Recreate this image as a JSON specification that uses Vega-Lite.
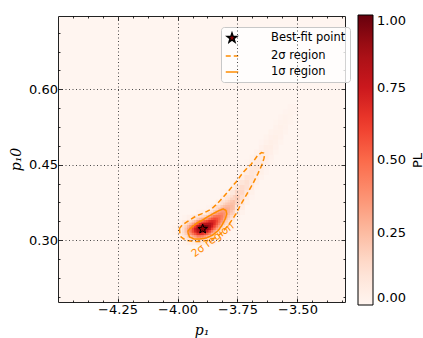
{
  "$schema": "https://vega.github.io/schema/vega-lite/v6.json",
  "width": 287,
  "height": 286,
  "autosize": "none",
  "padding": {"left": 58, "top": 16, "right": 78, "bottom": 36},
  "background": "white",
  "config": {
    "view": {"fill": "#fff5f0", "stroke": "#222222", "strokeWidth": 1},
    "font": "DejaVu Sans"
  },
  "datasets": {
    "pl": [
      {"x": -4.01, "y": 0.315, "PL": 0.014}, {"x": -4.01, "y": 0.325, "PL": 0.014},
      {"x": -3.99, "y": 0.305, "PL": 0.022}, {"x": -3.99, "y": 0.315, "PL": 0.05}, {"x": -3.99, "y": 0.325, "PL": 0.05}, {"x": -3.99, "y": 0.335, "PL": 0.022},
      {"x": -3.97, "y": 0.295, "PL": 0.014}, {"x": -3.97, "y": 0.305, "PL": 0.071}, {"x": -3.97, "y": 0.315, "PL": 0.162}, {"x": -3.97, "y": 0.325, "PL": 0.162}, {"x": -3.97, "y": 0.335, "PL": 0.071}, {"x": -3.97, "y": 0.345, "PL": 0.014},
      {"x": -3.95, "y": 0.295, "PL": 0.03}, {"x": -3.95, "y": 0.305, "PL": 0.158}, {"x": -3.95, "y": 0.315, "PL": 0.36}, {"x": -3.95, "y": 0.325, "PL": 0.36}, {"x": -3.95, "y": 0.335, "PL": 0.158}, {"x": -3.95, "y": 0.345, "PL": 0.03},
      {"x": -3.93, "y": 0.295, "PL": 0.042}, {"x": -3.93, "y": 0.305, "PL": 0.236}, {"x": -3.93, "y": 0.315, "PL": 0.585}, {"x": -3.93, "y": 0.325, "PL": 0.636}, {"x": -3.93, "y": 0.335, "PL": 0.3}, {"x": -3.93, "y": 0.345, "PL": 0.063},
      {"x": -3.91, "y": 0.295, "PL": 0.073}, {"x": -3.91, "y": 0.305, "PL": 0.337}, {"x": -3.91, "y": 0.315, "PL": 0.776}, {"x": -3.91, "y": 0.325, "PL": 0.89}, {"x": -3.91, "y": 0.335, "PL": 0.51}, {"x": -3.91, "y": 0.345, "PL": 0.146}, {"x": -3.91, "y": 0.355, "PL": 0.021},
      {"x": -3.89, "y": 0.295, "PL": 0.054}, {"x": -3.89, "y": 0.305, "PL": 0.286}, {"x": -3.89, "y": 0.315, "PL": 0.755}, {"x": -3.89, "y": 0.325, "PL": 0.999}, {"x": -3.89, "y": 0.335, "PL": 0.657}, {"x": -3.89, "y": 0.345, "PL": 0.216}, {"x": -3.89, "y": 0.355, "PL": 0.035},
      {"x": -3.87, "y": 0.295, "PL": 0.034}, {"x": -3.87, "y": 0.305, "PL": 0.191}, {"x": -3.87, "y": 0.315, "PL": 0.568}, {"x": -3.87, "y": 0.325, "PL": 0.888}, {"x": -3.87, "y": 0.335, "PL": 0.733}, {"x": -3.87, "y": 0.345, "PL": 0.319}, {"x": -3.87, "y": 0.355, "PL": 0.073}, {"x": -3.87, "y": 0.365, "PL": 0.009},
      {"x": -3.85, "y": 0.295, "PL": 0.015}, {"x": -3.85, "y": 0.305, "PL": 0.086}, {"x": -3.85, "y": 0.315, "PL": 0.3}, {"x": -3.85, "y": 0.325, "PL": 0.606}, {"x": -3.85, "y": 0.335, "PL": 0.712}, {"x": -3.85, "y": 0.345, "PL": 0.488}, {"x": -3.85, "y": 0.355, "PL": 0.195}, {"x": -3.85, "y": 0.365, "PL": 0.045},
      {"x": -3.83, "y": 0.305, "PL": 0.036}, {"x": -3.83, "y": 0.315, "PL": 0.137}, {"x": -3.83, "y": 0.325, "PL": 0.334}, {"x": -3.83, "y": 0.335, "PL": 0.52}, {"x": -3.83, "y": 0.345, "PL": 0.52}, {"x": -3.83, "y": 0.355, "PL": 0.334}, {"x": -3.83, "y": 0.365, "PL": 0.137}, {"x": -3.83, "y": 0.375, "PL": 0.036},
      {"x": -3.81, "y": 0.305, "PL": 0.012}, {"x": -3.81, "y": 0.315, "PL": 0.05}, {"x": -3.81, "y": 0.325, "PL": 0.146}, {"x": -3.81, "y": 0.335, "PL": 0.293}, {"x": -3.81, "y": 0.345, "PL": 0.408}, {"x": -3.81, "y": 0.355, "PL": 0.393}, {"x": -3.81, "y": 0.365, "PL": 0.262}, {"x": -3.81, "y": 0.375, "PL": 0.121}, {"x": -3.81, "y": 0.385, "PL": 0.039}, {"x": -3.81, "y": 0.395, "PL": 0.009},
      {"x": -3.79, "y": 0.315, "PL": 0.013}, {"x": -3.79, "y": 0.325, "PL": 0.047}, {"x": -3.79, "y": 0.335, "PL": 0.124}, {"x": -3.79, "y": 0.345, "PL": 0.232}, {"x": -3.79, "y": 0.355, "PL": 0.305}, {"x": -3.79, "y": 0.365, "PL": 0.285}, {"x": -3.79, "y": 0.375, "PL": 0.188}, {"x": -3.79, "y": 0.385, "PL": 0.088}, {"x": -3.79, "y": 0.395, "PL": 0.029},
      {"x": -3.77, "y": 0.325, "PL": 0.012}, {"x": -3.77, "y": 0.335, "PL": 0.04}, {"x": -3.77, "y": 0.345, "PL": 0.099}, {"x": -3.77, "y": 0.355, "PL": 0.177}, {"x": -3.77, "y": 0.365, "PL": 0.234}, {"x": -3.77, "y": 0.375, "PL": 0.227}, {"x": -3.77, "y": 0.385, "PL": 0.162}, {"x": -3.77, "y": 0.395, "PL": 0.085}, {"x": -3.77, "y": 0.405, "PL": 0.032}, {"x": -3.77, "y": 0.415, "PL": 0.009},
      {"x": -3.75, "y": 0.335, "PL": 0.008}, {"x": -3.75, "y": 0.345, "PL": 0.026}, {"x": -3.75, "y": 0.355, "PL": 0.066}, {"x": -3.75, "y": 0.365, "PL": 0.125}, {"x": -3.75, "y": 0.375, "PL": 0.177}, {"x": -3.75, "y": 0.385, "PL": 0.188}, {"x": -3.75, "y": 0.395, "PL": 0.148}, {"x": -3.75, "y": 0.405, "PL": 0.088}, {"x": -3.75, "y": 0.415, "PL": 0.039}, {"x": -3.75, "y": 0.425, "PL": 0.013},
      {"x": -3.73, "y": 0.355, "PL": 0.015}, {"x": -3.73, "y": 0.365, "PL": 0.041}, {"x": -3.73, "y": 0.375, "PL": 0.084}, {"x": -3.73, "y": 0.385, "PL": 0.131}, {"x": -3.73, "y": 0.395, "PL": 0.155}, {"x": -3.73, "y": 0.405, "PL": 0.139}, {"x": -3.73, "y": 0.415, "PL": 0.094}, {"x": -3.73, "y": 0.425, "PL": 0.048}, {"x": -3.73, "y": 0.435, "PL": 0.019},
      {"x": -3.71, "y": 0.375, "PL": 0.019}, {"x": -3.71, "y": 0.385, "PL": 0.046}, {"x": -3.71, "y": 0.395, "PL": 0.084}, {"x": -3.71, "y": 0.405, "PL": 0.117}, {"x": -3.71, "y": 0.415, "PL": 0.123}, {"x": -3.71, "y": 0.425, "PL": 0.099}, {"x": -3.71, "y": 0.435, "PL": 0.06}, {"x": -3.71, "y": 0.445, "PL": 0.028}, {"x": -3.71, "y": 0.455, "PL": 0.01},
      {"x": -3.69, "y": 0.385, "PL": 0.009}, {"x": -3.69, "y": 0.395, "PL": 0.024}, {"x": -3.69, "y": 0.405, "PL": 0.051}, {"x": -3.69, "y": 0.415, "PL": 0.082}, {"x": -3.69, "y": 0.425, "PL": 0.099}, {"x": -3.69, "y": 0.435, "PL": 0.092}, {"x": -3.69, "y": 0.445, "PL": 0.064}, {"x": -3.69, "y": 0.455, "PL": 0.034}, {"x": -3.69, "y": 0.465, "PL": 0.014},
      {"x": -3.67, "y": 0.405, "PL": 0.012}, {"x": -3.67, "y": 0.415, "PL": 0.029}, {"x": -3.67, "y": 0.425, "PL": 0.054}, {"x": -3.67, "y": 0.435, "PL": 0.075}, {"x": -3.67, "y": 0.445, "PL": 0.079}, {"x": -3.67, "y": 0.455, "PL": 0.063}, {"x": -3.67, "y": 0.465, "PL": 0.038}, {"x": -3.67, "y": 0.475, "PL": 0.018},
      {"x": -3.65, "y": 0.425, "PL": 0.015}, {"x": -3.65, "y": 0.435, "PL": 0.032}, {"x": -3.65, "y": 0.445, "PL": 0.052}, {"x": -3.65, "y": 0.455, "PL": 0.063}, {"x": -3.65, "y": 0.465, "PL": 0.058}, {"x": -3.65, "y": 0.475, "PL": 0.04}, {"x": -3.65, "y": 0.485, "PL": 0.021}, {"x": -3.65, "y": 0.495, "PL": 0.009},
      {"x": -3.63, "y": 0.435, "PL": 0.009}, {"x": -3.63, "y": 0.445, "PL": 0.02}, {"x": -3.63, "y": 0.455, "PL": 0.035}, {"x": -3.63, "y": 0.465, "PL": 0.047}, {"x": -3.63, "y": 0.475, "PL": 0.049}, {"x": -3.63, "y": 0.485, "PL": 0.04}, {"x": -3.63, "y": 0.495, "PL": 0.026}, {"x": -3.63, "y": 0.505, "PL": 0.013},
      {"x": -3.61, "y": 0.455, "PL": 0.011}, {"x": -3.61, "y": 0.465, "PL": 0.022}, {"x": -3.61, "y": 0.475, "PL": 0.033}, {"x": -3.61, "y": 0.485, "PL": 0.04}, {"x": -3.61, "y": 0.495, "PL": 0.037}, {"x": -3.61, "y": 0.505, "PL": 0.027}, {"x": -3.61, "y": 0.515, "PL": 0.015},
      {"x": -3.59, "y": 0.475, "PL": 0.013}, {"x": -3.59, "y": 0.485, "PL": 0.022}, {"x": -3.59, "y": 0.495, "PL": 0.03}, {"x": -3.59, "y": 0.505, "PL": 0.032}, {"x": -3.59, "y": 0.515, "PL": 0.026}, {"x": -3.59, "y": 0.525, "PL": 0.017}, {"x": -3.59, "y": 0.535, "PL": 0.008},
      {"x": -3.57, "y": 0.495, "PL": 0.014}, {"x": -3.57, "y": 0.505, "PL": 0.021}, {"x": -3.57, "y": 0.515, "PL": 0.025}, {"x": -3.57, "y": 0.525, "PL": 0.023}, {"x": -3.57, "y": 0.535, "PL": 0.017}, {"x": -3.57, "y": 0.545, "PL": 0.009},
      {"x": -3.55, "y": 0.515, "PL": 0.013}, {"x": -3.55, "y": 0.525, "PL": 0.018}, {"x": -3.55, "y": 0.535, "PL": 0.019}, {"x": -3.55, "y": 0.545, "PL": 0.015}, {"x": -3.55, "y": 0.555, "PL": 0.01},
      {"x": -3.53, "y": 0.535, "PL": 0.012}, {"x": -3.53, "y": 0.545, "PL": 0.014}, {"x": -3.53, "y": 0.555, "PL": 0.013}, {"x": -3.53, "y": 0.565, "PL": 0.009},
      {"x": -3.51, "y": 0.555, "PL": 0.01}, {"x": -3.51, "y": 0.565, "PL": 0.01}
    ],
    "plfine": [
      {"x": -3.975, "y": 0.3125, "PL": 0.103}, {"x": -3.975, "y": 0.3175, "PL": 0.127}, {"x": -3.975, "y": 0.3225, "PL": 0.127}, {"x": -3.975, "y": 0.3275, "PL": 0.103},
      {"x": -3.965, "y": 0.3075, "PL": 0.115}, {"x": -3.965, "y": 0.3125, "PL": 0.174}, {"x": -3.965, "y": 0.3175, "PL": 0.215}, {"x": -3.965, "y": 0.3225, "PL": 0.215}, {"x": -3.965, "y": 0.3275, "PL": 0.174}, {"x": -3.965, "y": 0.3325, "PL": 0.115},
      {"x": -3.955, "y": 0.3025, "PL": 0.093}, {"x": -3.955, "y": 0.3075, "PL": 0.173}, {"x": -3.955, "y": 0.3125, "PL": 0.262}, {"x": -3.955, "y": 0.3175, "PL": 0.322}, {"x": -3.955, "y": 0.3225, "PL": 0.322}, {"x": -3.955, "y": 0.3275, "PL": 0.262}, {"x": -3.955, "y": 0.3325, "PL": 0.173}, {"x": -3.955, "y": 0.3375, "PL": 0.093},
      {"x": -3.945, "y": 0.3025, "PL": 0.13}, {"x": -3.945, "y": 0.3075, "PL": 0.241}, {"x": -3.945, "y": 0.3125, "PL": 0.365}, {"x": -3.945, "y": 0.3175, "PL": 0.449}, {"x": -3.945, "y": 0.3225, "PL": 0.449}, {"x": -3.945, "y": 0.3275, "PL": 0.365}, {"x": -3.945, "y": 0.3325, "PL": 0.241}, {"x": -3.945, "y": 0.3375, "PL": 0.13},
      {"x": -3.935, "y": 0.3025, "PL": 0.157}, {"x": -3.935, "y": 0.3075, "PL": 0.299}, {"x": -3.935, "y": 0.3125, "PL": 0.461}, {"x": -3.935, "y": 0.3175, "PL": 0.578}, {"x": -3.935, "y": 0.3225, "PL": 0.59}, {"x": -3.935, "y": 0.3275, "PL": 0.49}, {"x": -3.935, "y": 0.3325, "PL": 0.331}, {"x": -3.935, "y": 0.3375, "PL": 0.182}, {"x": -3.935, "y": 0.3425, "PL": 0.081},
      {"x": -3.925, "y": 0.3025, "PL": 0.18}, {"x": -3.925, "y": 0.3075, "PL": 0.349}, {"x": -3.925, "y": 0.3125, "PL": 0.549}, {"x": -3.925, "y": 0.3175, "PL": 0.704}, {"x": -3.925, "y": 0.3225, "PL": 0.733}, {"x": -3.925, "y": 0.3275, "PL": 0.621}, {"x": -3.925, "y": 0.3325, "PL": 0.428}, {"x": -3.925, "y": 0.3375, "PL": 0.24}, {"x": -3.925, "y": 0.3425, "PL": 0.11},
      {"x": -3.915, "y": 0.2975, "PL": 0.116}, {"x": -3.915, "y": 0.3025, "PL": 0.246}, {"x": -3.915, "y": 0.3075, "PL": 0.435}, {"x": -3.915, "y": 0.3125, "PL": 0.649}, {"x": -3.915, "y": 0.3175, "PL": 0.813}, {"x": -3.915, "y": 0.3225, "PL": 0.857}, {"x": -3.915, "y": 0.3275, "PL": 0.759}, {"x": -3.915, "y": 0.3325, "PL": 0.565}, {"x": -3.915, "y": 0.3375, "PL": 0.354}, {"x": -3.915, "y": 0.3425, "PL": 0.186}, {"x": -3.915, "y": 0.3475, "PL": 0.082},
      {"x": -3.905, "y": 0.2975, "PL": 0.108}, {"x": -3.905, "y": 0.3025, "PL": 0.237}, {"x": -3.905, "y": 0.3075, "PL": 0.435}, {"x": -3.905, "y": 0.3125, "PL": 0.671}, {"x": -3.905, "y": 0.3175, "PL": 0.871}, {"x": -3.905, "y": 0.3225, "PL": 0.95}, {"x": -3.905, "y": 0.3275, "PL": 0.871}, {"x": -3.905, "y": 0.3325, "PL": 0.671}, {"x": -3.905, "y": 0.3375, "PL": 0.435}, {"x": -3.905, "y": 0.3425, "PL": 0.237}, {"x": -3.905, "y": 0.3475, "PL": 0.108},
      {"x": -3.895, "y": 0.2975, "PL": 0.096}, {"x": -3.895, "y": 0.3025, "PL": 0.216}, {"x": -3.895, "y": 0.3075, "PL": 0.411}, {"x": -3.895, "y": 0.3125, "PL": 0.657}, {"x": -3.895, "y": 0.3175, "PL": 0.882}, {"x": -3.895, "y": 0.3225, "PL": 0.997}, {"x": -3.895, "y": 0.3275, "PL": 0.946}, {"x": -3.895, "y": 0.3325, "PL": 0.755}, {"x": -3.895, "y": 0.3375, "PL": 0.506}, {"x": -3.895, "y": 0.3425, "PL": 0.286}, {"x": -3.895, "y": 0.3475, "PL": 0.135},
      {"x": -3.885, "y": 0.3025, "PL": 0.174}, {"x": -3.885, "y": 0.3075, "PL": 0.347}, {"x": -3.885, "y": 0.3125, "PL": 0.58}, {"x": -3.885, "y": 0.3175, "PL": 0.815}, {"x": -3.885, "y": 0.3225, "PL": 0.962}, {"x": -3.885, "y": 0.3275, "PL": 0.955}, {"x": -3.885, "y": 0.3325, "PL": 0.797}, {"x": -3.885, "y": 0.3375, "PL": 0.56}, {"x": -3.885, "y": 0.3425, "PL": 0.33}, {"x": -3.885, "y": 0.3475, "PL": 0.164},
      {"x": -3.875, "y": 0.3025, "PL": 0.15}, {"x": -3.875, "y": 0.3075, "PL": 0.3}, {"x": -3.875, "y": 0.3125, "PL": 0.509}, {"x": -3.875, "y": 0.3175, "PL": 0.732}, {"x": -3.875, "y": 0.3225, "PL": 0.893}, {"x": -3.875, "y": 0.3275, "PL": 0.923}, {"x": -3.875, "y": 0.3325, "PL": 0.809}, {"x": -3.875, "y": 0.3375, "PL": 0.601}, {"x": -3.875, "y": 0.3425, "PL": 0.378}, {"x": -3.875, "y": 0.3475, "PL": 0.202}, {"x": -3.875, "y": 0.3525, "PL": 0.091},
      {"x": -3.865, "y": 0.3025, "PL": 0.116}, {"x": -3.865, "y": 0.3075, "PL": 0.233}, {"x": -3.865, "y": 0.3125, "PL": 0.403}, {"x": -3.865, "y": 0.3175, "PL": 0.601}, {"x": -3.865, "y": 0.3225, "PL": 0.773}, {"x": -3.865, "y": 0.3275, "PL": 0.857}, {"x": -3.865, "y": 0.3325, "PL": 0.82}, {"x": -3.865, "y": 0.3375, "PL": 0.677}, {"x": -3.865, "y": 0.3425, "PL": 0.481}, {"x": -3.865, "y": 0.3475, "PL": 0.296}, {"x": -3.865, "y": 0.3525, "PL": 0.157},
      {"x": -3.855, "y": 0.3075, "PL": 0.151}, {"x": -3.855, "y": 0.3125, "PL": 0.278}, {"x": -3.855, "y": 0.3175, "PL": 0.443}, {"x": -3.855, "y": 0.3225, "PL": 0.612}, {"x": -3.855, "y": 0.3275, "PL": 0.736}, {"x": -3.855, "y": 0.3325, "PL": 0.768}, {"x": -3.855, "y": 0.3375, "PL": 0.696}, {"x": -3.855, "y": 0.3425, "PL": 0.547}, {"x": -3.855, "y": 0.3475, "PL": 0.374}, {"x": -3.855, "y": 0.3525, "PL": 0.222}, {"x": -3.855, "y": 0.3575, "PL": 0.114},
      {"x": -3.845, "y": 0.3075, "PL": 0.101}, {"x": -3.845, "y": 0.3125, "PL": 0.191}, {"x": -3.845, "y": 0.3175, "PL": 0.317}, {"x": -3.845, "y": 0.3225, "PL": 0.462}, {"x": -3.845, "y": 0.3275, "PL": 0.593}, {"x": -3.845, "y": 0.3325, "PL": 0.671}, {"x": -3.845, "y": 0.3375, "PL": 0.668}, {"x": -3.845, "y": 0.3425, "PL": 0.585}, {"x": -3.845, "y": 0.3475, "PL": 0.451}, {"x": -3.845, "y": 0.3525, "PL": 0.306}, {"x": -3.845, "y": 0.3575, "PL": 0.183}, {"x": -3.845, "y": 0.3625, "PL": 0.096},
      {"x": -3.835, "y": 0.3125, "PL": 0.126}, {"x": -3.835, "y": 0.3175, "PL": 0.217}, {"x": -3.835, "y": 0.3225, "PL": 0.333}, {"x": -3.835, "y": 0.3275, "PL": 0.454}, {"x": -3.835, "y": 0.3325, "PL": 0.549}, {"x": -3.835, "y": 0.3375, "PL": 0.59}, {"x": -3.835, "y": 0.3425, "PL": 0.562}, {"x": -3.835, "y": 0.3475, "PL": 0.476}, {"x": -3.835, "y": 0.3525, "PL": 0.358}, {"x": -3.835, "y": 0.3575, "PL": 0.239}, {"x": -3.835, "y": 0.3625, "PL": 0.142},
      {"x": -3.825, "y": 0.3125, "PL": 0.08}, {"x": -3.825, "y": 0.3175, "PL": 0.141}, {"x": -3.825, "y": 0.3225, "PL": 0.226}, {"x": -3.825, "y": 0.3275, "PL": 0.326}, {"x": -3.825, "y": 0.3325, "PL": 0.421}, {"x": -3.825, "y": 0.3375, "PL": 0.488}, {"x": -3.825, "y": 0.3425, "PL": 0.509}, {"x": -3.825, "y": 0.3475, "PL": 0.478}, {"x": -3.825, "y": 0.3525, "PL": 0.403}, {"x": -3.825, "y": 0.3575, "PL": 0.305}, {"x": -3.825, "y": 0.3625, "PL": 0.208}, {"x": -3.825, "y": 0.3675, "PL": 0.127},
      {"x": -3.815, "y": 0.3175, "PL": 0.082}, {"x": -3.815, "y": 0.3225, "PL": 0.139}, {"x": -3.815, "y": 0.3275, "PL": 0.213}, {"x": -3.815, "y": 0.3325, "PL": 0.295}, {"x": -3.815, "y": 0.3375, "PL": 0.372}, {"x": -3.815, "y": 0.3425, "PL": 0.424}, {"x": -3.815, "y": 0.3475, "PL": 0.44}, {"x": -3.815, "y": 0.3525, "PL": 0.413}, {"x": -3.815, "y": 0.3575, "PL": 0.352}, {"x": -3.815, "y": 0.3625, "PL": 0.272}, {"x": -3.815, "y": 0.3675, "PL": 0.191}, {"x": -3.815, "y": 0.3725, "PL": 0.121},
      {"x": -3.805, "y": 0.3225, "PL": 0.085}, {"x": -3.805, "y": 0.3275, "PL": 0.138}, {"x": -3.805, "y": 0.3325, "PL": 0.203}, {"x": -3.805, "y": 0.3375, "PL": 0.272}, {"x": -3.805, "y": 0.3425, "PL": 0.333}, {"x": -3.805, "y": 0.3475, "PL": 0.372}, {"x": -3.805, "y": 0.3525, "PL": 0.378}, {"x": -3.805, "y": 0.3575, "PL": 0.352}, {"x": -3.805, "y": 0.3625, "PL": 0.298}, {"x": -3.805, "y": 0.3675, "PL": 0.231}, {"x": -3.805, "y": 0.3725, "PL": 0.163}, {"x": -3.805, "y": 0.3775, "PL": 0.105},
      {"x": -3.795, "y": 0.3275, "PL": 0.08}, {"x": -3.795, "y": 0.3325, "PL": 0.125}, {"x": -3.795, "y": 0.3375, "PL": 0.179}, {"x": -3.795, "y": 0.3425, "PL": 0.236}, {"x": -3.795, "y": 0.3475, "PL": 0.284}, {"x": -3.795, "y": 0.3525, "PL": 0.314}, {"x": -3.795, "y": 0.3575, "PL": 0.318}, {"x": -3.795, "y": 0.3625, "PL": 0.296}, {"x": -3.795, "y": 0.3675, "PL": 0.252}, {"x": -3.795, "y": 0.3725, "PL": 0.198}, {"x": -3.795, "y": 0.3775, "PL": 0.142}, {"x": -3.795, "y": 0.3825, "PL": 0.093},
      {"x": -3.785, "y": 0.3375, "PL": 0.116}, {"x": -3.785, "y": 0.3425, "PL": 0.163}, {"x": -3.785, "y": 0.3475, "PL": 0.211}, {"x": -3.785, "y": 0.3525, "PL": 0.252}, {"x": -3.785, "y": 0.3575, "PL": 0.276}, {"x": -3.785, "y": 0.3625, "PL": 0.278}, {"x": -3.785, "y": 0.3675, "PL": 0.258}, {"x": -3.785, "y": 0.3725, "PL": 0.22}, {"x": -3.785, "y": 0.3775, "PL": 0.173}, {"x": -3.785, "y": 0.3825, "PL": 0.125}, {"x": -3.785, "y": 0.3875, "PL": 0.083},
      {"x": -3.775, "y": 0.3425, "PL": 0.105}, {"x": -3.775, "y": 0.3475, "PL": 0.146}, {"x": -3.775, "y": 0.3525, "PL": 0.188}, {"x": -3.775, "y": 0.3575, "PL": 0.223}, {"x": -3.775, "y": 0.3625, "PL": 0.245}, {"x": -3.775, "y": 0.3675, "PL": 0.249}, {"x": -3.775, "y": 0.3725, "PL": 0.234}, {"x": -3.775, "y": 0.3775, "PL": 0.203}, {"x": -3.775, "y": 0.3825, "PL": 0.163}, {"x": -3.775, "y": 0.3875, "PL": 0.121}, {"x": -3.775, "y": 0.3925, "PL": 0.083}
    ],
    "contours": [
      {"series": "2σ region", "i": 0, "x": -3.992, "y": 0.323},
      {"series": "2σ region", "i": 1, "x": -3.99, "y": 0.313},
      {"series": "2σ region", "i": 2, "x": -3.985, "y": 0.306},
      {"series": "2σ region", "i": 3, "x": -3.97, "y": 0.301},
      {"series": "2σ region", "i": 4, "x": -3.957, "y": 0.299},
      {"series": "2σ region", "i": 5, "x": -3.93, "y": 0.297},
      {"series": "2σ region", "i": 6, "x": -3.908, "y": 0.297},
      {"series": "2σ region", "i": 7, "x": -3.875, "y": 0.299},
      {"series": "2σ region", "i": 8, "x": -3.839, "y": 0.305},
      {"series": "2σ region", "i": 9, "x": -3.81, "y": 0.317},
      {"series": "2σ region", "i": 10, "x": -3.783, "y": 0.333},
      {"series": "2σ region", "i": 11, "x": -3.755, "y": 0.353},
      {"series": "2σ region", "i": 12, "x": -3.737, "y": 0.37},
      {"series": "2σ region", "i": 13, "x": -3.714, "y": 0.389},
      {"series": "2σ region", "i": 14, "x": -3.686, "y": 0.412},
      {"series": "2σ region", "i": 15, "x": -3.665, "y": 0.432},
      {"series": "2σ region", "i": 16, "x": -3.648, "y": 0.45},
      {"series": "2σ region", "i": 17, "x": -3.64, "y": 0.462},
      {"series": "2σ region", "i": 18, "x": -3.637, "y": 0.469},
      {"series": "2σ region", "i": 19, "x": -3.641, "y": 0.473},
      {"series": "2σ region", "i": 20, "x": -3.65, "y": 0.474},
      {"series": "2σ region", "i": 21, "x": -3.665, "y": 0.469},
      {"series": "2σ region", "i": 22, "x": -3.68, "y": 0.459},
      {"series": "2σ region", "i": 23, "x": -3.693, "y": 0.451},
      {"series": "2σ region", "i": 24, "x": -3.71, "y": 0.443},
      {"series": "2σ region", "i": 25, "x": -3.724, "y": 0.436},
      {"series": "2σ region", "i": 26, "x": -3.74, "y": 0.426},
      {"series": "2σ region", "i": 27, "x": -3.755, "y": 0.416},
      {"series": "2σ region", "i": 28, "x": -3.773, "y": 0.406},
      {"series": "2σ region", "i": 29, "x": -3.79, "y": 0.396},
      {"series": "2σ region", "i": 30, "x": -3.808, "y": 0.386},
      {"series": "2σ region", "i": 31, "x": -3.825, "y": 0.377},
      {"series": "2σ region", "i": 32, "x": -3.84, "y": 0.37},
      {"series": "2σ region", "i": 33, "x": -3.858, "y": 0.362},
      {"series": "2σ region", "i": 34, "x": -3.877, "y": 0.357},
      {"series": "2σ region", "i": 35, "x": -3.9, "y": 0.352},
      {"series": "2σ region", "i": 36, "x": -3.922, "y": 0.348},
      {"series": "2σ region", "i": 37, "x": -3.945, "y": 0.341},
      {"series": "2σ region", "i": 38, "x": -3.964, "y": 0.335},
      {"series": "2σ region", "i": 39, "x": -3.98, "y": 0.33},
      {"series": "2σ region", "i": 40, "x": -3.992, "y": 0.323},
      {"series": "1σ region", "i": 0, "x": -3.957, "y": 0.316},
      {"series": "1σ region", "i": 1, "x": -3.95, "y": 0.306},
      {"series": "1σ region", "i": 2, "x": -3.93, "y": 0.302},
      {"series": "1σ region", "i": 3, "x": -3.908, "y": 0.302},
      {"series": "1σ region", "i": 4, "x": -3.88, "y": 0.304},
      {"series": "1σ region", "i": 5, "x": -3.853, "y": 0.31},
      {"series": "1σ region", "i": 6, "x": -3.83, "y": 0.319},
      {"series": "1σ region", "i": 7, "x": -3.814, "y": 0.33},
      {"series": "1σ region", "i": 8, "x": -3.8, "y": 0.343},
      {"series": "1σ region", "i": 9, "x": -3.795, "y": 0.352},
      {"series": "1σ region", "i": 10, "x": -3.798, "y": 0.359},
      {"series": "1σ region", "i": 11, "x": -3.81, "y": 0.362},
      {"series": "1σ region", "i": 12, "x": -3.83, "y": 0.358},
      {"series": "1σ region", "i": 13, "x": -3.853, "y": 0.352},
      {"series": "1σ region", "i": 14, "x": -3.875, "y": 0.346},
      {"series": "1σ region", "i": 15, "x": -3.895, "y": 0.34},
      {"series": "1σ region", "i": 16, "x": -3.918, "y": 0.334},
      {"series": "1σ region", "i": 17, "x": -3.94, "y": 0.326},
      {"series": "1σ region", "i": 18, "x": -3.955, "y": 0.319},
      {"series": "1σ region", "i": 19, "x": -3.957, "y": 0.316}
    ],
    "best": [{"x": -3.895, "y": 0.322, "series": "Best-fit point"}],
    "labels": [{"x": -3.853, "y": 0.3, "label": "2σ region"}]
  },
  "layer": [
    {
      "data": {"name": "pl"},
      "mark": {"type": "square", "size": 28, "opacity": 1, "strokeWidth": 0},
      "encoding": {
        "x": {
          "field": "x", "type": "quantitative",
          "scale": {"domain": [-4.498, -3.302], "nice": false, "zero": false},
          "axis": {
            "orient": "bottom",
            "values": [-4.4375, -4.375, -4.3125, -4.25, -4.1875, -4.125, -4.0625, -4, -3.9375, -3.875, -3.8125, -3.75, -3.6875, -3.625, -3.5625, -3.5, -3.4375, -3.375, -3.3125],
            "labelExpr": "abs(datum.value*4 - round(datum.value*4)) < 0.001 ? format(datum.value, '.2f') : ''",
            "grid": true, "gridDash": [1, 2.5], "gridColor": "#333333", "gridWidth": 0.9,
            "gridOpacity": {"condition": {"test": "abs(datum.value*4 - round(datum.value*4)) < 0.001", "value": 1}, "value": 0},
            "tickSize": {"condition": {"test": "abs(datum.value*4 - round(datum.value*4)) < 0.001", "value": -4}, "value": -2},
            "tickColor": "black", "tickWidth": 0.8, "domain": false,
            "labelFontSize": 13, "labelColor": "black", "labelPadding": 5, "labelFlush": false, "labelOverlap": false,
            "title": "p₁", "titleFont": "DejaVu Serif", "titleFontStyle": "italic", "titleFontWeight": "normal", "titleFontSize": 14, "titleColor": "black", "titlePadding": 5,
            "zindex": 1
          }
        },
        "y": {
          "field": "y", "type": "quantitative",
          "scale": {"domain": [0.1766, 0.746], "nice": false, "zero": false},
          "axis": {
            "orient": "left",
            "values": [0.1875, 0.225, 0.2625, 0.3, 0.3375, 0.375, 0.4125, 0.45, 0.4875, 0.525, 0.5625, 0.6, 0.6375, 0.675, 0.7125],
            "labelExpr": "abs(datum.value/0.15 - round(datum.value/0.15)) < 0.001 ? format(datum.value, '.2f') : ''",
            "grid": true, "gridDash": [1, 2.5], "gridColor": "#333333", "gridWidth": 0.9,
            "gridOpacity": {"condition": {"test": "abs(datum.value/0.15 - round(datum.value/0.15)) < 0.001", "value": 1}, "value": 0},
            "tickSize": {"condition": {"test": "abs(datum.value/0.15 - round(datum.value/0.15)) < 0.001", "value": -4}, "value": -2},
            "tickColor": "black", "tickWidth": 0.8, "domain": false,
            "labelFontSize": 13, "labelColor": "black", "labelPadding": 4.5, "labelFlush": false, "labelOverlap": false,
            "title": "p₁0", "titleFont": "DejaVu Serif", "titleFontStyle": "italic", "titleFontWeight": "normal", "titleFontSize": 14, "titleColor": "black", "titlePadding": 5,
            "zindex": 1
          }
        },
        "color": {
          "field": "PL", "type": "quantitative",
          "scale": {"domain": [0, 0.125, 0.25, 0.375, 0.5, 0.625, 0.75, 0.875, 1], "range": ["#fff5f0", "#fee0d2", "#fcbba1", "#fc9272", "#fb6a4a", "#ef3b2c", "#cb181d", "#a50f15", "#67000d"], "interpolate": "rgb"},
          "legend": {
            "orient": "none", "legendX": 300, "legendY": -1, "direction": "vertical",
            "gradientLength": 290, "gradientThickness": 15,
            "gradientStrokeColor": "black", "gradientStrokeWidth": 1,
            "values": [0, 0.25, 0.5, 0.75, 1], "format": ".2f",
            "labelFont": "DejaVu Sans", "labelFontSize": 13, "labelColor": "black", "labelOffset": 4, "labelOverlap": false,
            "labelBaseline": "middle",
            "title": null,
            "padding": 0
          }
        }
      }
    },
    {
      "data": {"name": "plfine"},
      "mark": {"type": "square", "size": 7.6, "opacity": 1, "strokeWidth": 0},
      "encoding": {
        "x": {"field": "x", "type": "quantitative", "axis": null},
        "y": {"field": "y", "type": "quantitative", "axis": null},
        "color": {"field": "PL", "type": "quantitative"}
      }
    },
    {
      "data": {"name": "contours"},
      "mark": {"type": "line", "strokeWidth": 1.5},
      "encoding": {
        "x": {"field": "x", "type": "quantitative",
          "axis": {"orient": "top", "values": [-4.4375, -4.375, -4.3125, -4.25, -4.1875, -4.125, -4.0625, -4, -3.9375, -3.875, -3.8125, -3.75, -3.6875, -3.625, -3.5625, -3.5, -3.4375, -3.375, -3.3125],
            "labels": false, "grid": false, "domain": false, "title": null, "tickColor": "black", "tickWidth": 0.8,
            "tickSize": {"condition": {"test": "abs(datum.value*4 - round(datum.value*4)) < 0.001", "value": -4}, "value": -2}}},
        "y": {"field": "y", "type": "quantitative",
          "axis": {"orient": "right", "values": [0.1875, 0.225, 0.2625, 0.3, 0.3375, 0.375, 0.4125, 0.45, 0.4875, 0.525, 0.5625, 0.6, 0.6375, 0.675, 0.7125],
            "labels": false, "grid": false, "domain": false, "tickColor": "black", "tickWidth": 0.8,
            "tickSize": {"condition": {"test": "abs(datum.value/0.15 - round(datum.value/0.15)) < 0.001", "value": -4}, "value": -2},
            "title": "PL", "titleAngle": 270, "titleX": 72, "titleY": 144, "titleAlign": "center", "titleBaseline": "middle",
            "titleFont": "DejaVu Sans", "titleFontSize": 13, "titleFontWeight": "normal", "titleColor": "black"}},
        "order": {"field": "i", "type": "quantitative"},
        "stroke": {
          "field": "series", "type": "nominal",
          "scale": {"domain": ["Best-fit point", "2σ region", "1σ region"], "range": ["black", "#ff8c00", "#ff8c00"]},
          "legend": {
            "title": null, "orient": "none", "legendX": 163, "legendY": 11, "padding": 4,
            "fillColor": "rgba(255,255,255,0.8)", "strokeColor": "#c8c8c8", "cornerRadius": 3,
            "labelFont": "DejaVu Sans", "labelFontSize": 11.5, "labelColor": "black", "labelOffset": 32,
            "symbolSize": 156, "symbolStrokeWidth": 1.5, "symbolFillColor": "#8b0000", "rowPadding": 3
          }
        },
        "strokeDash": {
          "field": "series", "type": "nominal",
          "scale": {"domain": ["Best-fit point", "2σ region", "1σ region"], "range": [[1, 0], [5, 3], [1, 0]]},
          "legend": {
            "title": null, "orient": "none", "legendX": 163, "legendY": 11, "padding": 4,
            "fillColor": "rgba(255,255,255,0.8)", "strokeColor": "#c8c8c8", "cornerRadius": 3,
            "labelFont": "DejaVu Sans", "labelFontSize": 11.5, "labelColor": "black", "labelOffset": 32,
            "symbolSize": 156, "symbolStrokeWidth": 1.5, "symbolFillColor": "#8b0000", "rowPadding": 3
          }
        }
      }
    },
    {
      "data": {"name": "best"},
      "mark": {"type": "point", "filled": true, "fill": "#8b0000", "strokeWidth": 1, "opacity": 1, "strokeOpacity": 1, "size": 156},
      "encoding": {
        "x": {"field": "x", "type": "quantitative", "axis": null},
        "y": {"field": "y", "type": "quantitative", "axis": null},
        "stroke": {
          "field": "series", "type": "nominal",
          "scale": {"domain": ["Best-fit point", "2σ region", "1σ region"], "range": ["black", "#ff8c00", "#ff8c00"]},
          "legend": {
            "title": null, "orient": "none", "legendX": 163, "legendY": 11, "padding": 4,
            "fillColor": "rgba(255,255,255,0.8)", "strokeColor": "#c8c8c8", "cornerRadius": 3,
            "labelFont": "DejaVu Sans", "labelFontSize": 11.5, "labelColor": "black", "labelOffset": 32,
            "symbolSize": 156, "symbolStrokeWidth": 1.5, "symbolFillColor": "#8b0000", "rowPadding": 3
          }
        },
        "shape": {
          "field": "series", "type": "nominal",
          "scale": {"domain": ["Best-fit point", "2σ region", "1σ region"], "range": ["M0,-0.8L0.188,-0.259L0.761,-0.247L0.304,0.099L0.47,0.647L0,0.32L-0.47,0.647L-0.304,0.099L-0.761,-0.247L-0.188,-0.259Z", "stroke", "stroke"]},
          "legend": {
            "title": null, "orient": "none", "legendX": 163, "legendY": 11, "padding": 4,
            "fillColor": "rgba(255,255,255,0.8)", "strokeColor": "#c8c8c8", "cornerRadius": 3,
            "labelFont": "DejaVu Sans", "labelFontSize": 11.5, "labelColor": "black", "labelOffset": 32,
            "symbolSize": 156, "symbolStrokeWidth": 1.5, "symbolFillColor": "#8b0000", "rowPadding": 3
          }
        }
      }
    },
    {
      "data": {"name": "labels"},
      "mark": {"type": "text", "angle": -37, "fontSize": 10.5, "font": "DejaVu Sans", "fill": "#ff8c00", "align": "center", "baseline": "middle"},
      "encoding": {
        "x": {"field": "x", "type": "quantitative", "axis": null},
        "y": {"field": "y", "type": "quantitative", "axis": null},
        "text": {"field": "label", "type": "nominal"}
      }
    }
  ],
  "resolve": {"axis": {"x": "independent", "y": "independent"}}
}
